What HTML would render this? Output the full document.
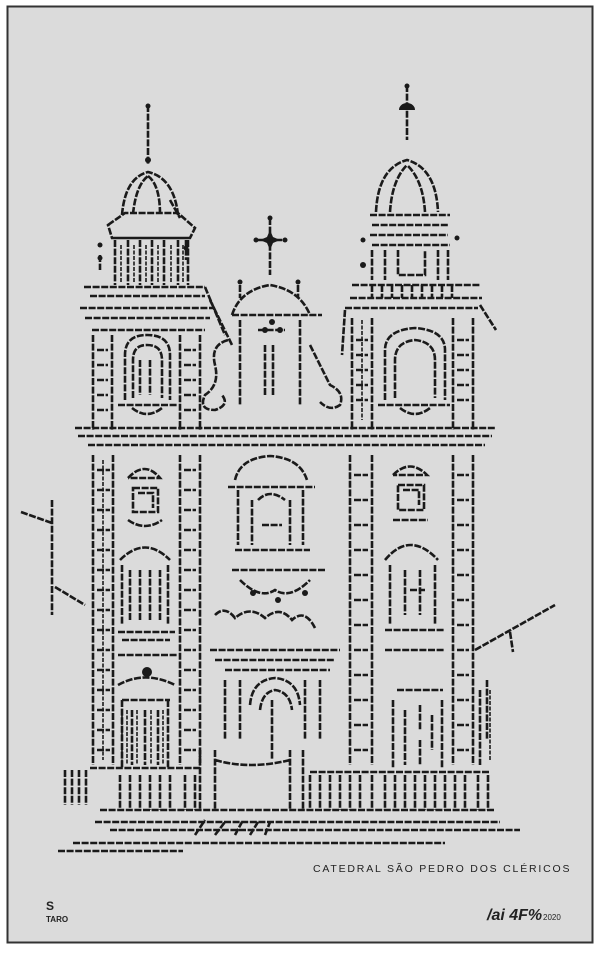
<!DOCTYPE html>
<html><head><meta charset="utf-8"><style>
html,body{margin:0;padding:0;background:#fff;}
svg{display:block}
</style></head><body>
<svg width="608" height="960" viewBox="0 0 608 960" xmlns="http://www.w3.org/2000/svg">
<rect x="7.5" y="6.5" width="585" height="936" fill="#dbdbdb" stroke="#333" stroke-width="2"/>
<g fill="none" stroke="#1a1a1a" stroke-width="2.6" stroke-dasharray="7 1.6">
<path d="M52 500V615 M21 512L52 523 M55 587L85 605"/>
<path d="M475 650L555 605 M510 632L513 652"/>
<path d="M148 105V165"/>
<path d="M122 215Q125 178 148 172Q174 178 178 215 M133 214Q136 185 148 176 M160 214Q160 185 148 176 M170 200L180 218"/>
<path d="M108 225L125 213H178L195 228L190 238H112Z M112 238H190"/>
<path d="M115 240V285 M128 240V285 M140 240V285 M152 240V285 M164 240V285 M178 240V285 M188 240V285"/>
<path d="M84 287H205 M90 296H205 M80 308H215 M85 318H210 M92 330H205"/>
<path d="M205 287L225 335 M210 300L232 345"/>
<path d="M100 255V270 M186 240V260"/>
<path d="M93 335V430 M112 335V430 M180 335V430 M200 335V430"/>
<path d="M97 350H108 M97 365H108 M97 380H108 M97 395H108 M97 410H108 M184 350H196 M184 365H196 M184 380H196 M184 395H196 M184 410H196"/>
<path d="M125 400V355Q125 335 147 335Q170 335 170 355V400 M118 405H178 M133 398V360Q133 345 147 345Q162 345 162 360V398 M140 360V395 M150 360V395"/>
<path d="M132 408Q147 420 162 408"/>
<path d="M407 85V140"/>
<path d="M376 212Q378 168 407 160Q436 168 438 212 M390 212Q392 180 407 165 M425 212Q423 180 407 165"/>
<path d="M370 215H450 M372 225H448 M370 235H448 M372 245H450"/>
<path d="M372 250V280 M385 250V280 M398 250V275H425V250 M438 250V280 M448 250V280"/>
<path d="M352 285H480 M350 298H482 M345 308H478"/>
<path d="M372 285V298 M382 285V298 M392 285V298 M402 285V298 M412 285V298 M422 285V298 M432 285V298 M442 285V298 M452 285V298"/>
<path d="M345 310L342 355 M480 305L496 330"/>
<path d="M352 318V430 M372 318V430 M453 318V430 M473 318V430"/>
<path d="M356 340H368 M356 355H368 M356 370H368 M356 385H368 M356 400H368 M457 340H469 M457 355H469 M457 370H469 M457 385H469 M457 400H469"/>
<path d="M385 400V350Q385 330 415 328Q445 330 445 350V400 M378 405H450 M395 398V360Q395 342 415 340Q435 342 435 360V398"/>
<path d="M400 408Q415 420 430 408"/>
<path d="M270 218V275 M258 240H283"/>
<path d="M240 285V298 M298 285V298"/>
<path d="M232 315Q240 290 270 285Q300 290 310 315 M232 315H322 M240 320V405 M300 320V405"/>
<path d="M265 345V395 M273 345V395 M258 330H285"/>
<path d="M228 340Q210 345 215 365Q220 385 205 395Q198 410 215 410Q230 405 222 395 M310 345Q320 365 330 385Q345 392 340 405Q330 412 320 402"/>
<path d="M75 428H495 M78 436H492 M88 445H485"/>
<path d="M93 455V765 M113 455V765 M180 455V765 M200 455V765 M350 455V765 M372 455V765 M453 455V765 M473 455V765"/>
<path d="M97 470H110 M97 490H110 M97 510H110 M97 530H110 M97 550H110 M97 570H110 M97 590H110 M97 610H110 M97 630H110 M97 650H110 M97 670H110 M97 690H110 M97 710H110 M97 730H110 M97 750H110"/>
<path d="M184 470H196 M184 490H196 M184 510H196 M184 530H196 M184 550H196 M184 570H196 M184 590H196 M184 610H196 M184 630H196 M184 650H196 M184 670H196 M184 690H196 M184 710H196 M184 730H196 M184 750H196"/>
<path d="M354 475H368 M354 500H368 M354 525H368 M354 550H368 M354 575H368 M354 600H368 M354 625H368 M354 650H368 M354 675H368 M354 700H368 M354 725H368 M354 750H368"/>
<path d="M457 475H469 M457 500H469 M457 525H469 M457 550H469 M457 575H469 M457 600H469 M457 625H469 M457 650H469 M457 675H469 M457 700H469 M457 725H469 M457 750H469"/>
<path d="M128 478Q145 460 160 478H128 M133 488H158V512H133Z M138 493H153V508 M128 520Q145 532 162 520"/>
<path d="M120 560Q145 535 170 560 M122 565V625 M168 565V625 M130 570V620 M140 570V620 M150 570V620 M160 570V620 M118 632H175 M122 640H170 M118 655H178"/>
<path d="M118 685Q145 670 175 685 M122 700H170 M122 700V768 M168 700V768 M132 710V765 M145 710V765 M158 710V765"/>
<path d="M235 480Q240 458 270 456Q300 458 307 480 M228 487H315 M238 490V545 M303 490V545 M252 500V545 M290 500V545 M258 500Q270 488 285 500 M262 525H282"/>
<path d="M235 550H310 M232 570H325 M240 580Q260 600 275 590Q290 600 310 580"/>
<path d="M215 615Q225 605 235 618Q250 605 265 618Q280 605 292 620Q305 608 315 628 M210 650H340 M215 660H335"/>
<path d="M225 670H330 M225 680V740 M240 680V740 M305 680V740 M320 680V740 M250 705Q252 680 275 678Q298 680 300 705 M260 710Q262 692 275 690Q290 692 292 710 M272 700V760"/>
<path d="M200 750V810 M215 750V810 M290 750V810 M303 750V810 M215 760Q250 770 290 760"/>
<path d="M393 475Q410 458 427 475H393 M398 485H424V510H398Z M403 490H419V505 M393 520H428"/>
<path d="M385 560Q410 530 438 560 M390 565V625 M435 565V625 M405 570V615 M420 570V615 M410 590H425 M385 630H445 M385 650H445"/>
<path d="M397 690H443 M393 700V768 M442 700V768 M405 710V765 M420 705V730 M420 740V765 M432 715V750"/>
<path d="M487 680V740 M480 690V765"/>
<path d="M65 770V805 M72 770V805 M79 770V805 M86 770V805 M120 775V810 M130 775V810 M140 775V810 M150 775V810 M160 775V810 M170 775V810 M185 775V810 M195 775V810"/>
<path d="M310 775V810 M320 775V810 M330 775V810 M340 775V810 M350 775V810 M360 775V810 M372 775V810 M385 775V810 M395 775V810 M405 775V810 M415 775V810 M425 775V810 M435 775V810 M445 775V810 M455 775V810 M465 775V810 M478 775V810 M488 775V810"/>
<path d="M90 768H200 M310 772H490 M100 810H495"/>
<path d="M95 822H500 M110 830H520 M73 843H445 M58 851H183"/>
<path d="M195 835L205 820 M215 835L225 822 M235 835L242 822 M250 835L258 822 M265 835L270 822"/>
</g>
<g fill="none" stroke="#1a1a1a" stroke-width="2" stroke-dasharray="4 1.5" opacity="0.8">
<path d="M121 245V283 M134 245V283 M146 245V283 M158 245V283 M171 245V283 M183 245V283"/>
<path d="M103 460V760 M122 710V765 M127 710V765 M137 710V765 M151 710V765 M163 710V765"/>
<path d="M362 320V420 M490 690V760"/>
</g>
<g fill="#1a1a1a">
<circle cx="148" cy="106" r="2.5"/><circle cx="148" cy="160" r="3"/>
<circle cx="100" cy="245" r="2.5"/><circle cx="100" cy="258" r="2.5"/><circle cx="186" cy="248" r="2.5"/>
<circle cx="407" cy="86" r="2.5"/><path d="M399 110A8 7 0 0 1 415 110Z"/>
<circle cx="363" cy="240" r="2.5"/><circle cx="363" cy="265" r="3"/><circle cx="457" cy="238" r="2.5"/>
<circle cx="270" cy="218" r="2.5"/><circle cx="256" cy="240" r="2.5"/><circle cx="285" cy="240" r="2.5"/>
<path d="M270 230L273 237L280 240L273 243L270 250L267 243L260 240L267 237Z"/>
<circle cx="240" cy="282" r="2.5"/><circle cx="298" cy="282" r="2.5"/>
<circle cx="272" cy="322" r="3"/><circle cx="265" cy="330" r="3"/><circle cx="280" cy="330" r="3"/>
<circle cx="253" cy="593" r="3"/><circle cx="278" cy="600" r="3"/><circle cx="305" cy="593" r="3"/>
<circle cx="147" cy="672" r="5"/>
</g>
<g font-family="Liberation Sans, sans-serif" fill="#222">
<text x="313" y="872" font-size="10.5" letter-spacing="1.8">CATEDRAL SÃO PEDRO DOS CLÉRICOS</text>
<text x="46" y="910" font-size="12" font-weight="bold">S</text>
<text x="46" y="922" font-size="8" font-weight="bold">TARO</text>
<text x="487" y="920" font-size="16" font-style="italic" font-weight="bold">/ai 4F%</text>
<text x="543" y="920" font-size="8">2020</text>
</g>
</svg>
</body></html>
